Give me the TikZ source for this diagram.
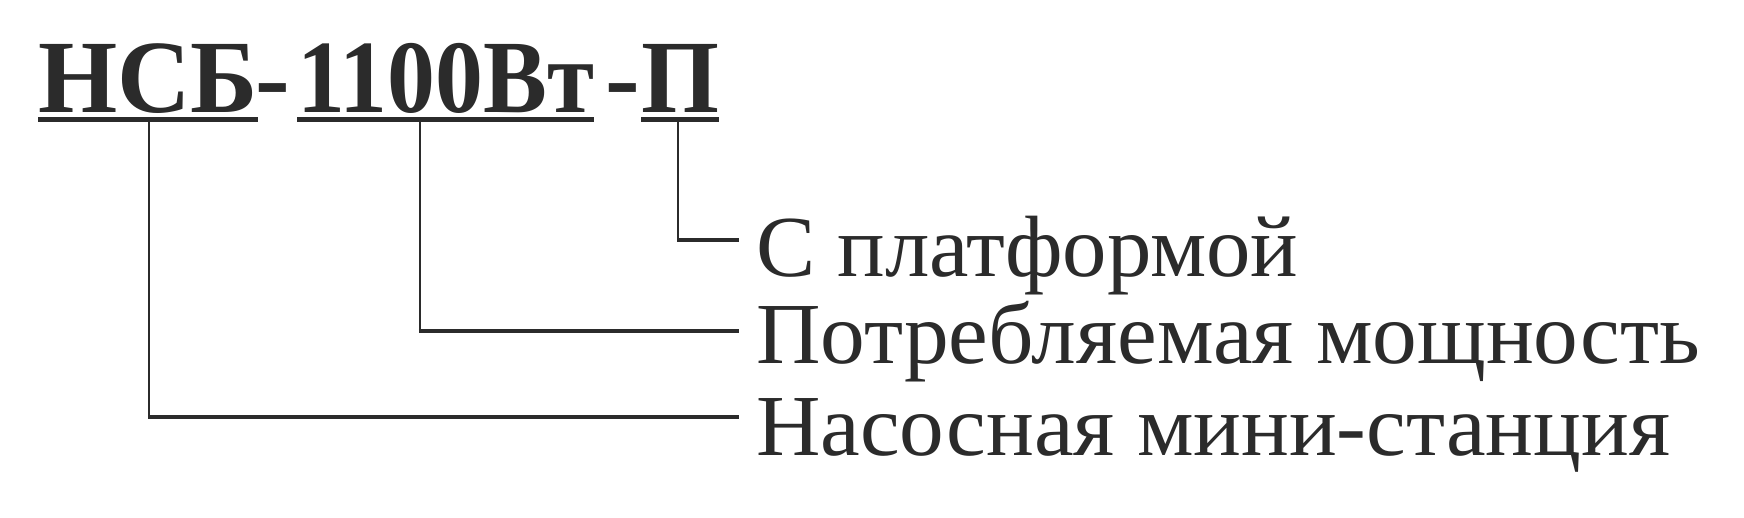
\documentclass[tikz,border=0pt]{standalone}
\usepackage{fontspec}
\setmainfont{Liberation Serif}
\usepackage{graphicx}
\definecolor{ink}{HTML}{2B2B2B}
\newcommand{\fitto}[2]{\resizebox{#1}{\height}{#2}}
\begin{document}
\begin{tikzpicture}[x=1pt,y=-1pt,
  titlepart/.style={inner sep=0pt, anchor=base west, text=ink, font=\fontsize{104}{110}\selectfont\bfseries},
  lbl/.style={inner sep=0pt, anchor=base west, text=ink, font=\fontsize{87}{90}\selectfont},
  uline/.style={draw=ink, line width=5pt},
  vconn/.style={draw=ink, line width=2.4pt},
  hconn/.style={draw=ink, line width=3.6pt}]
\useasboundingbox[fill=white] (0,0) rectangle (1744,517);
% title parts
\node[titlepart] (p1) at (38,112) {\fitto{220pt}{НСБ}};
\node[titlepart] (d1) at (255,112) {-};
\node[titlepart] (p2) at (297,112) {\fitto{297pt}{1100Вт}};
\node[titlepart] (d2) at (605,112) {-};
\node[titlepart] (p3) at (641,112) {\fitto{78pt}{П}};
% underlines
\draw[uline] ([yshift=-7pt]p1.base west) -- ([yshift=-7pt]p1.base east);
\draw[uline] ([yshift=-7pt]p2.base west) -- ([yshift=-7pt]p2.base east);
\draw[uline] ([yshift=-7pt]p3.base west) -- ([yshift=-7pt]p3.base east);
% labels
\node[lbl] (t1) at (756,276) {\fitto{542pt}{С платформой}};
\node[lbl] (t2) at (756,363) {\fitto{944pt}{Потребляемая мощность}};
\node[lbl] (t3) at (756,455) {\fitto{914pt}{Насосная мини-станция}};
% connector origins and ends
\coordinate (u1) at ([xshift=1pt,yshift=-8pt]p1.base);
\coordinate (u2) at ([xshift=123pt,yshift=-8pt]p2.base west);
\coordinate (u3) at ([xshift=-2pt,yshift=-8pt]p3.base);
\coordinate (e1) at ([xshift=-17pt,yshift=36pt]t1.base west);
\coordinate (e2) at ([xshift=-17pt,yshift=32pt]t2.base west);
\coordinate (e3) at ([xshift=-17pt,yshift=38pt]t3.base west);
\coordinate (k1) at (u3 |- e1);
\coordinate (k2) at (u2 |- e2);
\coordinate (k3) at (u1 |- e3);
% connectors
\draw[vconn] (u3) -- ([yshift=-1.2pt]k1);
\draw[hconn] ([xshift=-1.2pt]k1) -- (e1);
\draw[vconn] (u2) -- ([yshift=-1.2pt]k2);
\draw[hconn] ([xshift=-1.2pt]k2) -- (e2);
\draw[vconn] (u1) -- ([yshift=-1.2pt]k3);
\draw[hconn] ([xshift=-1.2pt]k3) -- (e3);
\end{tikzpicture}
\end{document}
